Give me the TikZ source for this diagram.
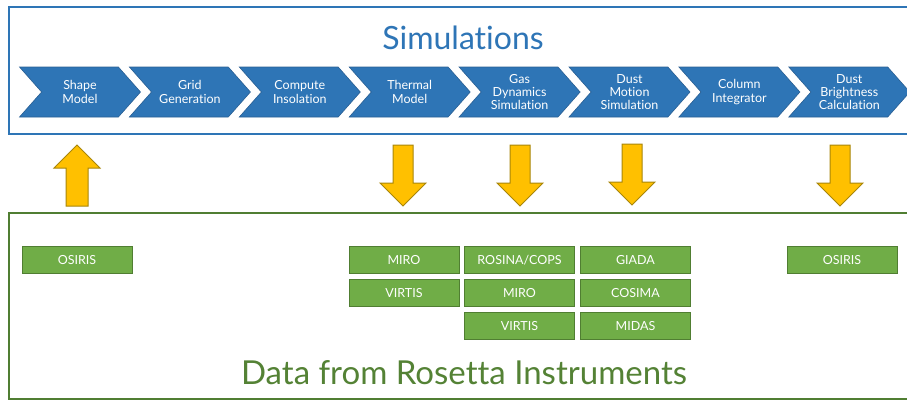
\documentclass[tikz,border=0pt]{standalone}
\usepackage{fontspec}
\setmainfont{Lato}[Ligatures=NoCommon]
\usepackage{tikz}
\usetikzlibrary{shapes,arrows}
\definecolor{simblue}{HTML}{2E75B6}
\definecolor{simedge}{HTML}{2A5F93}
\definecolor{datgreen}{HTML}{70AD47}
\definecolor{datedge}{HTML}{507E32}
\definecolor{dattext}{HTML}{548235}
\definecolor{gold}{HTML}{FFC000}
\definecolor{goldedge}{HTML}{A8860A}
\tikzstyle{chevron} = [signal, signal from=west, signal to=east, signal pointer angle=97, fill=simblue, draw=simedge, line width=0.6pt, minimum width=121pt, minimum height=50pt, inner sep=0pt, text=white, align=center, font=\fontsize{12.5}{13.2}\selectfont]
\tikzstyle{instr} = [rectangle, fill=datgreen, draw=datedge, line width=1pt, minimum width=110pt, minimum height=27pt, inner sep=0pt, text=white, font=\fontsize{12.5}{14}\selectfont]
\tikzstyle{gold} = [fill=gold, draw=goldedge, line width=1pt]

\begin{document}
\begin{tikzpicture}[x=1pt, y=-1pt]
	\clip (0,0) rectangle (907,402);
	% -------------- Simulations --------------
	\draw[simblue, line width=2pt] (9,7) rectangle (920,134);
	\node[text=simblue, font=\fontsize{32}{38}\selectfont] (simtitle) at (463,38) {Simulations};
	\node[chevron] (shape)  at (80,92)    {Shape\\Model};
	\node[chevron] (grid)   at (189.9,92) {Grid\\Generation};
	\node[chevron] (insol)  at (299.8,92) {Compute\\Insolation};
	\node[chevron] (therm)  at (409.7,92) {Thermal\\Model};
	\node[chevron] (gas)    at (519.6,92) {Gas\\Dynamics\\Simulation};
	\node[chevron] (motion) at (629.5,92) {Dust\\Motion\\Simulation};
	\node[chevron] (column) at (739.4,92) {Column\\Integrator};
	\node[chevron] (bright) at (849.3,92) {Dust\\Brightness\\Calculation};
	% -------------- Arrows --------------
	\draw[gold] (66,206)  -- ++(22,0) -- ++(0,-38) -- ++(12,0) -- ++(-23,-23) -- ++(-23,23) -- ++(12,0) -- cycle;
	\draw[gold] (393,145) -- ++(20,0) -- ++(0,38) -- ++(13,0) -- ++(-23,23) -- ++(-23,-23) -- ++(13,0) -- cycle;
	\draw[gold] (510,145) -- ++(20,0) -- ++(0,38) -- ++(13,0) -- ++(-23,23) -- ++(-23,-23) -- ++(13,0) -- cycle;
	\draw[gold] (622,144) -- ++(20,0) -- ++(0,38) -- ++(13,0) -- ++(-23,23) -- ++(-23,-23) -- ++(13,0) -- cycle;
	\draw[gold] (830,145) -- ++(20,0) -- ++(0,38) -- ++(13,0) -- ++(-23,23) -- ++(-23,-23) -- ++(13,0) -- cycle;
	% -------------- Rosetta data --------------
	\draw[datedge, line width=1.5pt] (9,213) rectangle (920,399);
	\node[text=dattext, font=\fontsize{33}{40}\selectfont] (datatitle) at (464,373) {Data from Rosetta Instruments};
	\node[instr] (osirisA) at (77,260)    {OSIRIS};
	\node[instr] (miroA)   at (404,260)   {MIRO};
	\node[instr] (virtisA) at (404,293)   {VIRTIS};
	\node[instr] (rosina)  at (519.5,260) {ROSINA/COPS};
	\node[instr] (miroB)   at (519.5,293) {MIRO};
	\node[instr] (virtisB) at (519.5,326) {VIRTIS};
	\node[instr] (giada)   at (635.5,260) {GIADA};
	\node[instr] (cosima)  at (635.5,293) {COSIMA};
	\node[instr] (midas)   at (635.5,326) {MIDAS};
	\node[instr] (osirisB) at (842,260)   {OSIRIS};
\end{tikzpicture}
\end{document}
